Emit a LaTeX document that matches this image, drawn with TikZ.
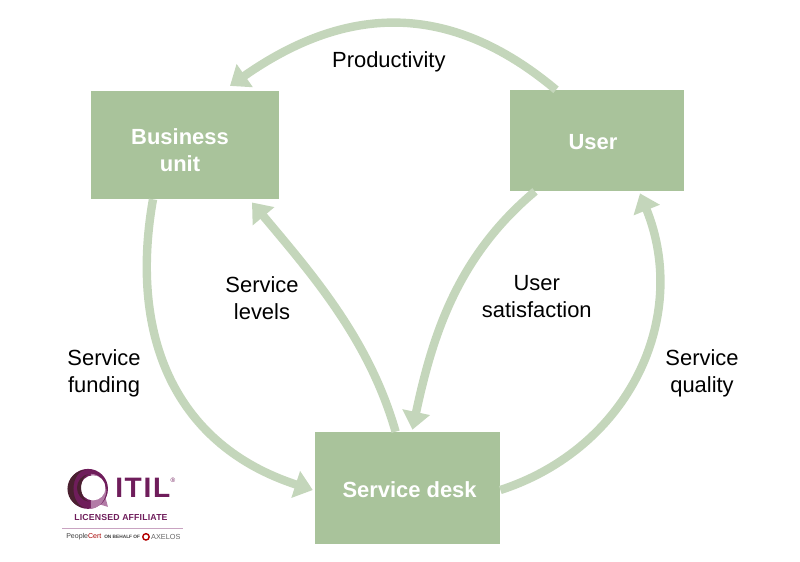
\documentclass[tikz,border=0pt]{standalone}
\usepackage{fontspec}
\setmainfont{Liberation Sans}
\usetikzlibrary{arrows.meta}
\definecolor{boxgreen}{HTML}{A9C39B}
\definecolor{flowgreen}{HTML}{C4D6BB}
\definecolor{itilplum}{HTML}{6F1D5B}
\definecolor{itildark}{HTML}{4A2030}
\definecolor{itilpink}{HTML}{B27BA6}

\begin{document}
\begin{tikzpicture}[
    every node/.style={font=\fontsize{15.6}{19.2}\selectfont, align=center},
    unit/.style={rectangle, fill=boxgreen, draw=none},
    unittext/.style={text=white, font=\fontsize{15.6}{19.2}\selectfont\bfseries},
    flow/.style={draw=flowgreen, line width=0.21cm, -{Triangle[width=0.68cm, length=0.45cm]}},
    logotext/.style={inner sep=0pt, text=itilplum}
]
\useasboundingbox (0,0) rectangle (20,14.025);

% ---- kotak utama ----
\node[unit, minimum width=4.7cm,   minimum height=2.7cm,   label={[unittext, name=businesstext, xshift=-0.125cm, yshift=-0.125cm]center:Business\\unit}] (business) at (4.625,10.4) {};
\node[unit, minimum width=4.35cm,  minimum height=2.525cm, label={[unittext, name=usertext, xshift=-0.1cm, yshift=-0.03cm]center:User}] (user) at (14.925,10.51) {};
\node[unit, minimum width=4.625cm, minimum height=2.8cm,   label={[unittext, name=desktext, xshift=0.05cm, yshift=-0.03cm]center:Service desk}] (desk) at (10.19,1.825) {};

% ---- panah melengkung antar kotak ----
\draw[flow] ([xshift=-1.025cm]user.north) to[out=140, in=35, looseness=1.1] ([xshift=1.125cm,yshift=0.12cm]business.north);
\draw[flow] ([xshift=-0.8cm]business.south) to[out=-100, in=162, looseness=1.1] ([xshift=-0.05cm,yshift=-0.05cm]desk.west);
\draw[flow] ([xshift=-0.3cm]desk.north) to[out=106, in=-50, looseness=0.9] ([xshift=1.675cm,yshift=-0.08cm]business.south);
\draw[flow] ([xshift=-1.55cm]user.south) to[out=-140, in=78, looseness=0.95] ([xshift=0.12cm,yshift=0.05cm]desk.north);
\draw[flow] (desk.east) ++(0,-0.05) to[out=18, in=-68, looseness=1.05] ([xshift=1.075cm,yshift=-0.05cm]user.south);

% ---- label panah ----
\node (productivity) at (9.72,12.47) {Productivity};
\node (funding)      at (2.6,4.7)    {Service\\funding};
\node (levels)       at (6.55,6.57)  {Service\\levels};
\node (satisfaction) at (13.42,6.62) {User\\satisfaction};
\node (quality)      at (17.55,4.7)  {Service\\quality};

% ---- logo, koordinat dalam piksel ----
\begin{scope}[x=0.025cm, y=-0.025cm, yshift=14.025cm]
\fill[itilpink] (91,502) -- (108,507) -- (103,488) -- cycle;
\fill[itilplum] (88,489) circle (20);
\fill[itilpink] (105,489) arc (0:-90:14 and 15) -- (91,509) arc (85:0:17 and 20) -- cycle;
\fill[itildark] (67.5,489) arc (180:90:19) arc (90:270:13 and 19) arc (270:180:19) -- cycle;
\fill[white] (93,488) circle (12.5);
\fill[itildark] (77,488) arc (180:100:14) arc (100:260:9 and 14) arc (260:180:14) -- cycle;
\fill[white] (93,488) circle (9.5);
\node[logotext, anchor=base west, font=\fontsize{20}{20}\selectfont\bfseries\addfontfeature{LetterSpace=6}] (itil) at (115,498) {ITIL};
\node[logotext, font=\fontsize{4.5}{5}\selectfont] (registered) at (173,480) {®};
\node[logotext, font=\fontsize{6.2}{8}\selectfont\bfseries\addfontfeature{LetterSpace=2}] (affiliate) at (121,518) {LICENSED AFFILIATE};
\draw[itilpink!70, line width=0.4pt] (62,528) -- (183,528);
\node[inner sep=0pt, anchor=west, text=black!75, font=\fontsize{5}{6}\selectfont] (peoplecert) at (66,537) {People\textcolor{red!65!black}{Cert}};
\node[inner sep=0pt, anchor=west, text=black!75, font=\fontsize{3.4}{4}\selectfont\bfseries] (behalf) at (104,537) {ON BEHALF OF};
\draw[red!70!black, line width=1pt] (146,537) circle (3.2);
\node[inner sep=0pt, anchor=west, text=black!60, font=\fontsize{5.2}{6}\selectfont] (axelos) at (151,537) {AXELOS};
\end{scope}

\end{tikzpicture}
\end{document}
